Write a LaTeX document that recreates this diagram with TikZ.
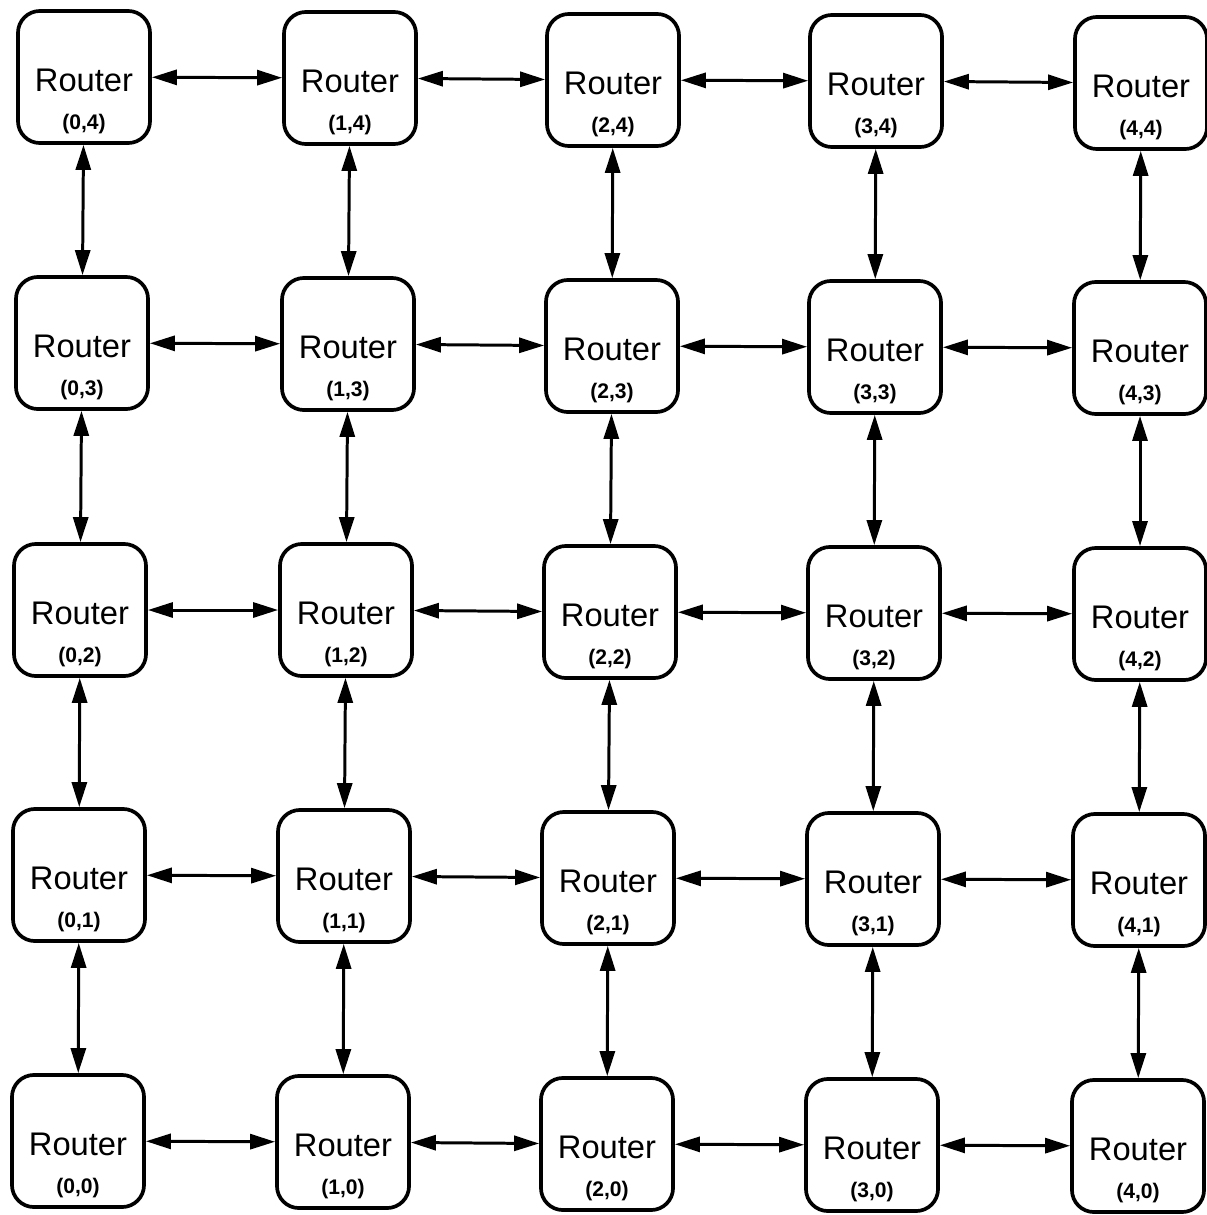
\documentclass[tikz,border=0pt]{standalone}
\usepackage{fontspec}
\setmainfont{Liberation Sans}
\usetikzlibrary{arrows.meta}
\begin{document}
\begin{tikzpicture}[x=0.01cm,y=-0.01cm,
  router/.style={draw,line width=1.05pt,rounded corners=0.22cm,minimum width=1.32cm,minimum height=1.32cm,inner sep=0pt},
  rtext/.style={inner sep=0pt,font=\fontsize{9.3}{11}\selectfont},
  ltext/.style={inner sep=0pt,font=\bfseries\fontsize{6}{7}\selectfont},
  link/.style={line width=0.85pt,{Triangle[length=0.25cm,width=0.15cm]}-{Triangle[length=0.25cm,width=0.15cm]}}]
\useasboundingbox (0,0) rectangle (1207,1215);
\foreach \i/\j/\x/\y in {0/0/78/1141, 1/0/343/1142, 2/0/607/1144, 3/0/872/1145, 4/0/1138/1146,
  0/1/79/875, 1/1/344/876, 2/1/608/878, 3/1/873/879, 4/1/1139/880,
  0/2/80/610, 1/2/346/610, 2/2/610/612, 3/2/874/613, 4/2/1140/614,
  0/3/82/343, 1/3/348/344, 2/3/612/346, 3/3/875/347, 4/3/1140/348,
  0/4/84/77, 1/4/350/78, 2/4/613/80, 3/4/876/81, 4/4/1141/83}{
  \node[router] (r\i\j) at (\x,\y) {};
  \node[rtext] (t\i\j) at (\x,\y+3) {Router};
  \node[ltext] (l\i\j) at (\x,\y+47) {(\i,\j)};
}
\foreach \i [evaluate=\i as \n using int(\i+1)] in {0,...,3}{
  \foreach \j in {0,...,4}{
    \draw[link] (r\i\j) -- (r\n\j);
    \draw[link] (r\j\i) -- (r\j\n);
  }
}
\end{tikzpicture}
\end{document}
